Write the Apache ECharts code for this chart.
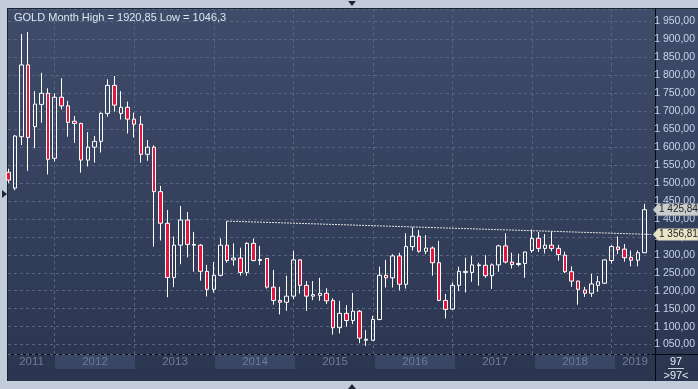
<!DOCTYPE html>
<html><head><meta charset="utf-8">
<script src="https://cdn.jsdelivr.net/npm/echarts@6/dist/echarts.min.js"></script>
<style>
html,body{margin:0;padding:0;background:#c3cdda;overflow:hidden;}
#wrap{position:relative;width:698px;height:389px;}
#panel{position:absolute;left:7px;top:8px;width:691px;height:373px;background:linear-gradient(#3f4c6a,#2b3550);border-left:1px solid #1b2232;border-top:1px solid #1b2232;box-sizing:border-box;}
#vline{position:absolute;left:655px;top:8px;width:1px;height:373px;background:#05070c;}
#hline{position:absolute;left:7px;top:354px;width:691px;height:1px;background:#05070c;}
.tri{position:absolute;width:0;height:0;}
#c{position:absolute;left:0;top:0;width:698px;height:389px;}
</style>
</head><body>
<div id="wrap">
<div id="panel"></div>
<div id="vline"></div>
<div id="hline"></div>
<div class="tri" style="left:348px;top:1px;border-left:4px solid transparent;border-right:4px solid transparent;border-top:5px solid #1e2638;"></div>
<div class="tri" style="left:348px;top:384px;border-left:4px solid transparent;border-right:4px solid transparent;border-bottom:5px solid #1e2638;"></div>
<div class="tri" style="left:2px;top:190px;border-top:4px solid transparent;border-bottom:4px solid transparent;border-left:5px solid #1e2638;"></div>
<div id="c"></div>
</div>
<script>
const months = ['2011-06','2011-07','2011-08','2011-09','2011-10','2011-11','2011-12',
'2012-01','2012-02','2012-03','2012-04','2012-05','2012-06','2012-07','2012-08','2012-09','2012-10','2012-11','2012-12',
'2013-01','2013-02','2013-03','2013-04','2013-05','2013-06','2013-07','2013-08','2013-09','2013-10','2013-11','2013-12',
'2014-01','2014-02','2014-03','2014-04','2014-05','2014-06','2014-07','2014-08','2014-09','2014-10','2014-11','2014-12',
'2015-01','2015-02','2015-03','2015-04','2015-05','2015-06','2015-07','2015-08','2015-09','2015-10','2015-11','2015-12',
'2016-01','2016-02','2016-03','2016-04','2016-05','2016-06','2016-07','2016-08','2016-09','2016-10','2016-11','2016-12',
'2017-01','2017-02','2017-03','2017-04','2017-05','2017-06','2017-07','2017-08','2017-09','2017-10','2017-11','2017-12',
'2018-01','2018-02','2018-03','2018-04','2018-05','2018-06','2018-07','2018-08','2018-09','2018-10','2018-11','2018-12',
'2019-01','2019-02','2019-03','2019-04','2019-05','2019-06'];

const open = [1530,1486,1629,1829,1657,1719,1750,1569,1739,1715,
1672,1666,1564,1600,1616,1694,1772,1694,1711,1678,
1664,1580,1600,1476,1388,1237,1327,1397,1327,1327,
1254,1204,1243,1327,1286,1291,1251,1332,1284,1290,
1210,1173,1168,1185,1286,1215,1185,1187,1193,1173,
1097,1137,1117,1143,1062,1062,1120,1243,1236,1297,
1218,1323,1352,1310,1319,1278,1173,1149,1215,1251,
1251,1270,1271,1242,1272,1325,1280,1273,1276,1312,
1346,1318,1327,1318,1299,1253,1227,1202,1193,1215,
1221,1284,1322,1316,1293,1285,1306];

const close = [1508,1631,1829,1627,1720,1750,1566,1739,1715,1669,
1666,1564,1600,1616,1694,1772,1717,1711,1678,1664,
1580,1600,1476,1388,1237,1327,1397,1329,1329,1254,
1204,1243,1327,1284,1291,1251,1332,1284,1287,1210,
1173,1168,1185,1286,1215,1185,1189,1193,1172,1097,
1137,1117,1143,1068,1065,1120,1243,1236,1297,1218,
1323,1352,1310,1319,1278,1173,1148,1215,1254,1254,
1272,1272,1242,1272,1325,1280,1273,1276,1308,1346,
1318,1327,1318,1301,1253,1227,1204,1193,1219,1225,
1286,1323,1315,1292,1285,1306,1425.84];

const low = [1500,1480,1606,1534,1597,1668,1524,1560,1705,1629,
1612,1529,1546,1557,1585,1685,1699,1677,1638,1627,
1557,1562,1323,1340,1182,1210,1274,1293,1253,1228,
1184,1195,1240,1278,1270,1242,1242,1282,1272,1206,
1161,1134,1144,1177,1192,1144,1174,1172,1163,1078,
1081,1100,1107,1054,1046.3,1061,1118,1209,1209,1201,
1206,1312,1306,1302,1242,1171,1123,1147,1199,1195,
1225,1214,1236,1205,1253,1276,1262,1268,1236,1306,
1308,1304,1310,1284,1249,1211,1161,1183,1183,1197,
1219,1276,1302,1281,1268,1268,1306];

const high = [1540,1634,1915,1920.85,1756,1807,1764,1750,1792,1729,
1687,1668,1642,1631,1697,1789,1798,1756,1727,1696,
1687,1620,1605,1492,1425,1351,1436,1419,1364,1330,
1272,1280,1346,1394,1332,1320,1335,1346,1325,1290,
1258,1211,1242,1311,1288,1227,1227,1236,1207,1179,
1172,1160,1194,1146,1090,1130,1267,1286,1302,1306,
1360,1377,1369,1355,1323,1339,1191,1223,1267,1292,
1297,1278,1299,1276,1328,1360,1306,1303,1309,1371,
1364,1358,1366,1328,1309,1268,1228,1211,1247,1241,
1287,1327,1351,1330,1312,1312,1442];

const years = ['2011','2012','2013','2014','2015','2016','2017','2018','2019'];
const trendStartMonth = '2014-03';
const trendStartValue = 1394;
const trendEndValue = 1356.81;
const lastPrice = 1425.84;
const titleText = 'GOLD Month High = 1920,85 Low = 1046,3';
const barCount = '97';
const barCountSub = '>97<';

const FONT = "'Liberation Sans', Arial, sans-serif";
const X_MIN = -0.05, X_MAX = 97;
const Y_MIN = 1023.8, Y_MAX = 1984.8;

function fmt(v){
  const s = v.toFixed(2).split('.');
  return s[0].replace(/\B(?=(\d{3})+(?!\d))/g,' ') + ',' + s[1];
}

const candleData = months.map((m,i)=>[i, open[i], close[i], low[i], high[i]]);
const yearStarts = years.map(y=>months.indexOf(y+'-01')).filter(i=>i>=0);
const yearAreas = years.map((y,k)=>{
  let s = months.findIndex(m=>m.startsWith(y));
  let eIdx = months.findIndex(m=>m.startsWith(String(+y+1)));
  let start = k===0 ? X_MIN : s;
  let end = eIdx<0 ? X_MAX : eIdx;
  return [{xAxis:start, name:y, itemStyle:{color: (+y)%2===0 ? 'rgba(70,84,116,0.55)' : 'rgba(0,0,0,0)'}},{xAxis:end}];
});
const trendData = [[months.indexOf(trendStartMonth), trendStartValue],[X_MAX, trendEndValue]];

const chart = echarts.init(document.getElementById('c'), null, {renderer:'canvas'});
const option = {
  backgroundColor:'transparent',
  animation:false,
  title:{text:titleText, left:9, top:7, textStyle:{color:'#dfe6f2', fontSize:11, fontWeight:'normal', fontFamily:FONT}},
  grid:[
    {left:8, right:43, top:9, bottom:35, containLabel:false},
    {left:8, right:43, top:355, height:14, containLabel:false}
  ],
  xAxis:[
    {type:'value', gridIndex:0, min:X_MIN, max:X_MAX, axisLabel:{show:false}, axisTick:{show:false}, axisLine:{show:false}, splitLine:{show:false}},
    {type:'value', gridIndex:1, min:X_MIN, max:X_MAX, show:false}
  ],
  yAxis:[
    {type:'value', gridIndex:0, position:'right', min:Y_MIN, max:Y_MAX, splitNumber:19,
     axisLine:{show:false}, axisTick:{show:false},
     axisLabel:{margin:3, color:'#c8d4ea', fontSize:10.5, fontFamily:FONT,
       formatter:v=>{ if(Math.abs(v/50-Math.round(v/50))>1e-6) return ''; return fmt(v);} },
     splitLine:{show:true, lineStyle:{color:'#58657f', type:[3,3], width:1}}},
    {type:'value', gridIndex:1, min:0, max:1, show:false}
  ],
  series:[
    {type:'candlestick', xAxisIndex:0, yAxisIndex:0, data:candleData, barWidth:4, clip:true,
     encode:{x:0, y:[1,2,3,4]},
     itemStyle:{color:'rgba(0,0,0,0)', color0:'#e3163d', borderColor:'#ffffff', borderColor0:'#ffffff', borderColorDoji:'#ffffff', borderWidth:1},
     markLine:{silent:true, symbol:'none', z:1, animation:false, label:{show:false},
       lineStyle:{color:'#58657f', type:[3,3], width:1},
       data: yearStarts.map(v=>({xAxis:v}))}
    },
    {type:'line', xAxisIndex:0, yAxisIndex:0, data:trendData, showSymbol:false, symbol:'none', silent:true, z:3,
     lineStyle:{color:'#e2e2e2', width:1, type:[2,1]}},
    {type:'line', xAxisIndex:1, yAxisIndex:1, data:[], silent:true,
     markArea:{silent:true, label:{show:true, position:'inside', color:'#6f7d98', fontSize:11.5, fontFamily:FONT}, data:yearAreas}}
  ]
};
chart.setOption(option);

function tag(value, fill){
  const y = chart.convertToPixel({xAxisIndex:0, yAxisIndex:0},[X_MAX, value])[1];
  return {type:'group', children:[
    {type:'polygon', shape:{points:[[653,y],[658,y-6],[698,y-6],[698,y+6],[658,y+6]]}, style:{fill:fill, stroke:'#8a8f98', lineWidth:0.5}, z:10},
    {type:'text', x:659, y:y, style:{text:fmt(value), fill:'#222', font:'10px '+FONT, textVerticalAlign:'middle'}, z:11}
  ]};
}
chart.setOption({graphic:[
  tag(trendEndValue, '#e8e6c6'),
  tag(lastPrice, '#c9cdcc'),
  {type:'text', x:676, y:356, style:{text:barCount, fill:'#e6ecf5', font:'11px '+FONT, textAlign:'center'}, z:10},
  {type:'line', shape:{x1:668, y1:368.5, x2:684, y2:368.5}, style:{stroke:'#c8d0dc', lineWidth:1}, z:10},
  {type:'text', x:676, y:370, style:{text:barCountSub, fill:'#e6ecf5', font:'11px '+FONT, textAlign:'center'}, z:10}
]});
</script>
</body></html>
